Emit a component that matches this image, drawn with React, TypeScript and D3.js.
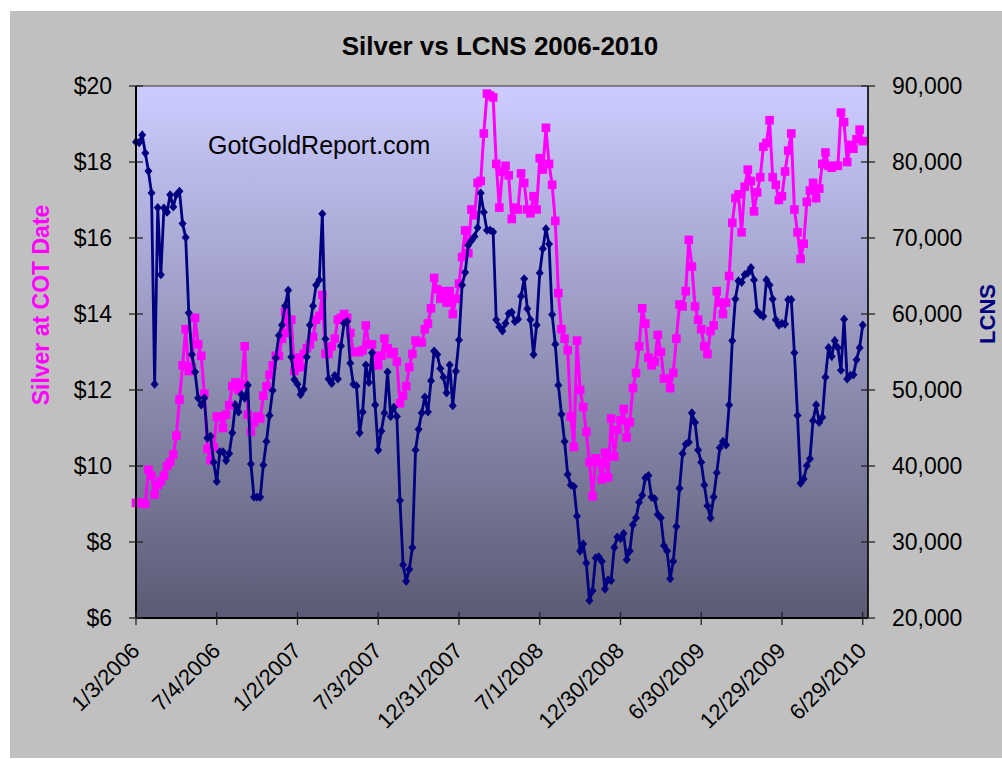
import React from 'react';
import * as d3 from 'd3';

// weekly COT readings, 1/3/2006 .. mid 2010
const silver = [
  9.03, 9.03, 9.03, 9.0, 9.9, 9.75, 9.25, 9.5, 9.6, 9.75,
  10.0, 10.1, 10.3, 10.8, 11.75, 12.65, 13.6, 12.5, 12.6, 13.9,
  13.2, 12.9, 11.9, 10.45, 10.15, 10.5, 11.3, 11.3, 11.0, 11.35,
  11.6, 12.1, 12.2, 12.0, 12.15, 13.15, 11.35,
  10.9, 11.15, 11.3, 11.25, 11.85, 12.1, 12.4, 12.65, 12.9, 12.9,
  13.35, 14.05, 13.5, 13.85, 12.5, 12.85, 12.6, 12.95, 13.1, 13.2,
  13.4, 13.85, 13.95, 14.5, 12.95, 12.95, 13.15, 13.35, 13.85, 13.9,
  14.0, 13.9, 13.5, 13.0, 13.0, 13.0, 13.05, 13.7, 13.2, 13.2,
  12.9, 12.65, 12.9, 13.35, 13.1, 12.95, 13.0, 12.75, 11.65, 11.85,
  12.1, 12.6, 12.95, 13.3, 13.25, 13.25, 13.6, 13.75, 14.15, 14.95,
  14.65, 14.4, 14.6, 14.3, 14.6, 14.0, 14.4, 14.8, 15.5, 16.2,
  15.6, 16.75, 16.6, 17.45, 17.5, 18.75, 19.8, 19.75, 19.7, 17.95,
  16.8, 17.75, 17.9, 17.65, 16.5, 16.8, 16.75, 17.7, 17.45, 16.75,
  16.65, 17.1, 16.75, 18.1, 17.8, 18.9, 17.95, 17.4, 16.45, 14.55,
  13.6, 13.35, 13.05, 11.3, 10.5, 13.3, 12.0, 11.55, 10.9, 10.1,
  9.2, 10.2, 10.1, 9.65, 10.35, 9.7, 11.25, 10.25, 10.95, 11.2,
  11.5, 10.75, 11.15, 12.05, 12.45, 13.15, 14.15, 13.75, 12.85, 12.65,
  12.75, 13.45, 13.0, 12.3, 12.3, 12.05, 12.45, 13.35, 14.25, 14.2,
  14.6, 15.95, 15.25, 14.2, 13.85, 13.6, 13.15, 12.95, 13.55, 13.7,
  14.6, 14.3, 14.0, 14.3, 15.0, 16.4,
  17.05, 17.15, 16.15, 17.35, 17.8, 17.5, 16.7, 17.2, 17.6, 18.4,
  18.5, 19.1, 17.6, 17.4, 17.0, 17.1, 17.75, 18.3, 18.75, 16.75,
  16.15, 15.45, 15.85, 16.95, 17.25, 17.45, 17.05, 17.3, 17.95, 18.25,
  17.9, 17.85, 17.9, 17.9, 19.3, 19.05, 18.0, 18.45, 18.35, 18.6,
  18.85, 18.55
];

const lcns = [
  82640, 82550, 83550, 81180, 78800, 75920, 50770, 74000, 65170, 73950,
  73400, 75690, 74090, 75690, 76150, 71900, 70070, 60150, 54660, 52380,
  48940, 48030, 48940, 43680, 43910, 40480, 37970, 41860, 41860, 40720,
  41630, 44370, 48030, 47120, 49400, 48940, 50640, 40260, 35910,
  35910, 35910,
  40130, 43230, 46660, 49950, 54200, 57170, 58540, 61060, 63120,
  54340, 51370, 50770, 49400, 50090, 54340, 58540, 61060, 63800, 64490,
  73180, 56720, 51460, 50860, 51910, 51460, 55800, 58770, 59000, 53520,
  50770, 50540, 44370, 47120, 53290, 51000,
  54890, 48030, 42090, 44600, 46980, 52370, 46520, 47710, 46520, 35460,
  27000, 24850, 26400, 29280, 42090, 44830, 46980, 49080, 47120, 51230,
  55120, 54660, 52830, 51690, 49630, 53290, 47940, 52460, 56580, 63800,
  65490, 69060, 69650, 70200, 71350, 75920, 73400, 71030, 71030, 70800,
  59230, 58320, 57770, 58780, 60050, 60240, 59000, 59320, 62340, 64630,
  60700, 59230, 54660, 58540, 65400, 68600, 71210, 69200, 59920, 56030,
  50640, 46800, 43230, 38890, 37510, 37290, 33400, 28830, 29740, 27230,
  22290, 23570, 27910, 28050, 27460, 23800, 25030, 24940, 29280,
  30660, 30430, 31110, 27680, 28830, 32260, 33170, 35230, 36140, 38430,
  38750, 35910, 35680, 33630, 33170, 29510, 28830, 25170, 27460, 32030,
  37060, 41630, 42860, 43140, 46980, 45730, 42090, 40480, 37510, 34770,
  33170, 35910, 39110, 42410, 43230, 42770,
  48030, 56490, 61970, 64350, 64170, 65170, 65400, 66090, 64490, 60370,
  59920, 59690, 64490, 63800, 61970, 59230, 58540, 58770, 58680, 61880,
  61880, 54890, 46660, 37740, 38290, 40030, 40940, 45970, 48030, 45740,
  46430, 51690, 55570, 54430, 56490, 55570, 52600, 59320, 51460, 51920,
  52000, 53970, 55570, 58540
];

// a label every 26 weeks
const dateLabels = ['1/3/2006', '7/4/2006', '1/2/2007', '7/3/2007', '12/31/2007',
  '7/1/2008', '12/30/2008', '6/30/2009', '12/29/2009', '6/29/2010'];
const labelStep = 26;
const silverTicks = [6, 8, 10, 12, 14, 16, 18, 20];
const lcnsTicks = [20000, 30000, 40000, 50000, 60000, 70000, 80000, 90000];

const font = '"Liberation Sans", Arial, sans-serif';

export default function App() {
  const width = 1002, height = 759;
  const left = 136, right = 868, top = 86, bottom = 618;

  const x = d3.scaleLinear().domain([0, 235.7]).range([left, right]);
  const yS = d3.scaleLinear().domain([6, 20]).range([bottom, top]);
  const yL = d3.scaleLinear().domain([20000, 90000]).range([bottom, top]);

  const silverLine = d3.line<number>().x((d, i) => x(i)).y(d => yS(d));
  const lcnsLine = d3.line<number>().x((d, i) => x(i)).y(d => yL(d));
  const comma = d3.format(',');

  const sq = 8.6;
  const diamond = 'M0,-4.6L4,0L0,4.6L-4,0Z';

  return (
    <svg width={width} height={height} style={{ position: 'absolute', left: 0, top: 0 }}
      fontFamily={font}>
      <defs>
        <linearGradient id="plotbg" x1="0" y1="0" x2="0" y2="1">
          <stop offset="0" stopColor="#CCCCFF" />
          <stop offset="1" stopColor="#5B5B75" />
        </linearGradient>
      </defs>
      <rect x={0} y={0} width={width} height={height} fill="#fff" />
      <rect x={10} y={11} width={width - 10} height={747} fill="#C0C0C0" />

      <text x={500} y={55} textAnchor="middle" fontSize={26} fontWeight="bold">Silver vs LCNS 2006-2010</text>

      <rect x={left} y={top} width={right - left} height={bottom - top} fill="url(#plotbg)" />
      <line x1={left} x2={right} y1={top} y2={top} stroke="#333" strokeWidth={1.2} />

      <text x={208} y={154} fontSize={25}>GotGoldReport.com</text>

      {/* silver series */}
      <path d={silverLine(silver) || ''} fill="none" stroke="#FF00FF" strokeWidth={3} />
      {silver.map((d, i) => (
        <rect key={'s' + i} x={x(i) - sq / 2} y={yS(d) - sq / 2} width={sq} height={sq} fill="#FF00FF" />
      ))}

      {/* lcns series */}
      <path d={lcnsLine(lcns) || ''} fill="none" stroke="#000080" strokeWidth={2.8} />
      {lcns.map((d, i) => (
        <path key={'l' + i} d={diamond} transform={`translate(${x(i)},${yL(d)})`} fill="#000080" />
      ))}

      {/* axes */}
      <line x1={left} x2={left} y1={top} y2={bottom} stroke="#000" strokeWidth={2} />
      <line x1={right} x2={right} y1={top} y2={bottom} stroke="#000" strokeWidth={1.6} />
      <line x1={left} x2={right} y1={bottom} y2={bottom} stroke="#000" strokeWidth={2} />

      {silverTicks.map(t => (
        <g key={'ys' + t}>
          <line x1={left - 7} x2={left + 7} y1={yS(t)} y2={yS(t)} stroke="#222" strokeWidth={1.3} />
          <text x={112} y={yS(t) + 8} textAnchor="end" fontSize={23}>{'$' + t}</text>
        </g>
      ))}
      {lcnsTicks.map(t => (
        <g key={'yl' + t}>
          <line x1={right - 7} x2={right + 7} y1={yL(t)} y2={yL(t)} stroke="#222" strokeWidth={1.3} />
          <text x={892} y={yL(t) + 8} fontSize={23}>{comma(t)}</text>
        </g>
      ))}
      {dateLabels.map((lab, k) => {
        const px = x(k * labelStep);
        return (
          <g key={'x' + k}>
            <line x1={px} x2={px} y1={bottom - 6} y2={bottom + 7} stroke="#222" strokeWidth={1.3} />
            <text transform={`translate(${px + 5},${bottom + 34}) rotate(-45)`} textAnchor="end" fontSize={22}>{lab}</text>
          </g>
        );
      })}

      <text transform="translate(49,305) rotate(-90)" textAnchor="middle" fontSize={23}
        fontWeight="bold" fill="#FF00FF">Silver at COT Date</text>
      <text transform="translate(995,314) rotate(-90)" textAnchor="middle" fontSize={22}
        fontWeight="bold" fill="#000080">LCNS</text>
    </svg>
  );
}
